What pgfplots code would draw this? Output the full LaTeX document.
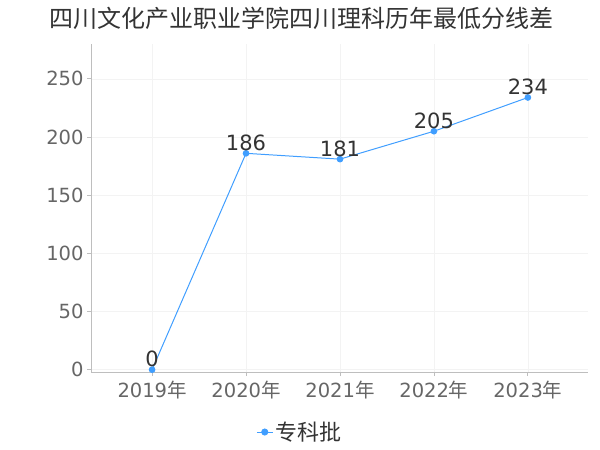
\documentclass[border=0pt]{standalone}
\usepackage{fontspec}
\setmainfont{DejaVu Sans}
\newfontfamily\cjk{Noto Sans CJK SC}
\usepackage{pgfplots}
\pgfplotsset{compat=1.18}
\definecolor{line}{RGB}{64,158,255}
\definecolor{tick}{RGB}{102,102,102}
\definecolor{txt}{RGB}{51,51,51}
\definecolor{axl}{RGB}{190,190,190}
\definecolor{grd}{RGB}{243,243,243}
\begin{document}
\begin{tikzpicture}
\useasboundingbox (0,0) rectangle (600bp,450bp);
\node[font=\cjk\fontsize{24bp}{28bp}\selectfont, text=txt] at (301bp,432bp) {四川文化产业职业学院四川理科历年最低分线差};
\begin{axis}[
  at={(91bp,78bp)}, anchor=south west,
  scale only axis, width=497bp, height=328bp,
  xmin=-0.65, xmax=4.64, ymin=-2, ymax=280,
  xtick={0,1,2,3,4},
  xticklabels={2019{\cjk 年},2020{\cjk 年},2021{\cjk 年},2022{\cjk 年},2023{\cjk 年}},
  ytick={0,50,100,150,200,250},
  /pgf/number format/assume math mode=true,
  axis x line*=bottom, axis y line*=left,
  axis line style={axl, line width=0.8pt, -},
  tick style={axl, line width=0.8pt},
  tick align=outside, major tick length=4bp,
  grid=major, major grid style={grd, line width=0.6pt},
  ticklabel style={font=\fontsize{19.5bp}{23bp}\selectfont, text=tick},
  xticklabel style={yshift=-2bp},
  clip=true,
  legend style={at={(0.42,-0.183)}, anchor=center, draw=none, fill=none,
    font=\cjk\fontsize{22bp}{26bp}\selectfont, text=txt, legend columns=1},
  legend image code/.code={\draw[#1, mark=none] (0bp,0bp) -- (16bp,0bp); \fill[line] (8bp,0bp) circle (3bp);},
]
\addplot[line, line width=1pt, mark=*, mark size=2.8bp, mark options={fill=line, draw=line},
  nodes near coords, every node near coord/.append style={font=\fontsize{21bp}{25bp}\selectfont, text=txt, inner sep=2bp}]
  coordinates {(0,0) (1,186) (2,181) (3,205) (4,234)};
\addlegendentry{专科批}
\end{axis}
\end{tikzpicture}
\end{document}
